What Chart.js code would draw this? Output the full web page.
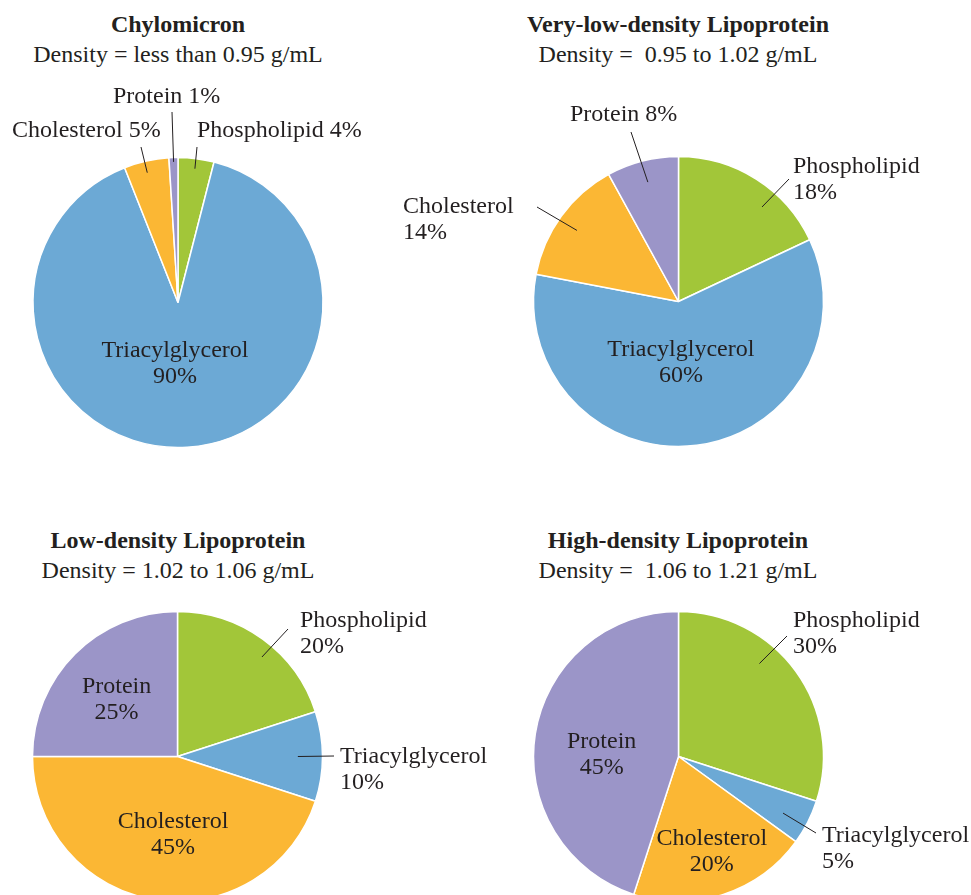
<!DOCTYPE html>
<html lang="en">
<head>
  <meta charset="UTF-8" />
  <title>Lipoprotein composition</title>
  <style>
    body {
      margin: 0;
      background: #fff;
      font-family: 'Liberation Serif', 'Times New Roman', serif;
      color: #231f20;
    }
    .page {
      position: relative;
      width: 971px;
      height: 895px;
      overflow: hidden;
    }
    .page canvas {
      position: absolute;
      left: 0;
      top: 0;
    }
    .heading {
      position: absolute;
      width: 420px;
      margin-left: -210px;
      text-align: center;
      font-size: 24px;
      line-height: 30px;
      white-space: pre;
    }
    .heading b { display: block; }
  </style>
  <script src="https://cdn.jsdelivr.net/npm/chart.js"></script>
</head>
<body>
  <div class="page">
    <div class="heading" style="left:178px; top:9px"><b>Chylomicron</b>Density = less than 0.95 g/mL</div>
    <div class="heading" style="left:678px; top:9px"><b>Very-low-density Lipoprotein</b>Density =  0.95 to 1.02 g/mL</div>
    <div class="heading" style="left:178px; top:525px"><b>Low-density Lipoprotein</b>Density = 1.02 to 1.06 g/mL</div>
    <div class="heading" style="left:678px; top:525px"><b>High-density Lipoprotein</b>Density =  1.06 to 1.21 g/mL</div>
    <canvas id="c1" width="971" height="895"></canvas>
    <canvas id="c2" width="971" height="895"></canvas>
    <canvas id="c3" width="971" height="895"></canvas>
    <canvas id="c4" width="971" height="895"></canvas>
  </div>

  <script>
    // composition in percent, same order for every particle
    const components = ['Phospholipid', 'Triacylglycerol', 'Cholesterol', 'Protein'];
    const chylomicron = [4, 90, 5, 1];
    const vldl = [18, 60, 14, 8];
    const ldl = [20, 10, 45, 25];
    const hdl = [30, 5, 20, 45];

    const colors = ['#a2c639', '#6ca9d5', '#fbb734', '#9b95c8'];
    const ink = '#231f20';
    const W = 971, H = 895, R = 145;

    // draws the slice labels; leader lines end on the arc itself
    const sliceLabels = {
      id: 'sliceLabels',
      afterDatasetsDraw(chart, args, opts) {
        const ctx = chart.ctx;
        const arcs = chart.getDatasetMeta(0).data;
        const values = chart.data.datasets[0].data;
        ctx.save();
        ctx.font = '24px "Liberation Serif", "Times New Roman", serif';
        ctx.fillStyle = ink;
        ctx.strokeStyle = ink;
        ctx.lineWidth = 1;
        opts.items.forEach(item => {
          const p = arcs[item.i].getProps(['x', 'y', 'startAngle', 'endAngle', 'outerRadius'], true);
          const a = p.startAngle + (p.endAngle - p.startAngle) * item.at;
          const px = p.x + Math.cos(a) * p.outerRadius * item.rf;
          const py = p.y + Math.sin(a) * p.outerRadius * item.rf;
          const name = chart.data.labels[item.i];
          const pct = values[item.i] + '%';
          if (item.inside) {
            ctx.textAlign = 'center';
            ctx.fillText(name, px, py - 6);
            ctx.fillText(pct, px, py + 20);
            return;
          }
          ctx.beginPath();
          ctx.moveTo(item.line[0], item.line[1]);
          ctx.lineTo(px, py);
          ctx.stroke();
          ctx.textAlign = 'left';
          if (item.oneLine) {
            ctx.fillText(name + ' ' + pct, item.x, item.y);
          } else {
            ctx.fillText(name, item.x, item.y);
            ctx.fillText(pct, item.x, item.y + 26);
          }
        });
        ctx.restore();
      }
    };

    function makePie(id, values, cx, cy, items) {
      new Chart(document.getElementById(id), {
        type: 'pie',
        data: {
          labels: components,
          datasets: [{
            data: values,
            backgroundColor: colors,
            borderColor: '#fff',
            borderWidth: 1.5,
            hoverOffset: 0
          }]
        },
        options: {
          responsive: false,
          animation: false,
          radius: R,
          layout: {
            padding: {
              left: Math.max(0, 2 * cx - W),
              right: Math.max(0, W - 2 * cx),
              top: Math.max(0, 2 * cy - H),
              bottom: Math.max(0, H - 2 * cy)
            }
          },
          plugins: {
            legend: { display: false },
            tooltip: { enabled: false },
            sliceLabels: { items: items }
          }
        },
        plugins: [sliceLabels]
      });
    }

    makePie('c1', chylomicron, 178, 302.5, [
      { i: 0, x: 197, y: 137, oneLine: true, line: [197, 147], at: 0.5, rf: 0.93 },
      { i: 1, inside: true, at: 0.52, rf: 0.42 },
      { i: 2, x: 12, y: 137, oneLine: true, line: [141, 147], at: 0.46, rf: 0.92 },
      { i: 3, x: 113, y: 103, oneLine: true, line: [172, 112], at: 0.5, rf: 0.97 }
    ]);

    makePie('c2', vldl, 678.5, 301.5, [
      { i: 0, x: 793, y: 173, line: [789, 179], at: 0.64, rf: 0.87 },
      { i: 1, inside: true, at: 0.523, rf: 0.42 },
      { i: 2, x: 403, y: 213, line: [537, 207], at: 0.48, rf: 0.855 },
      { i: 3, x: 570, y: 121, oneLine: true, line: [631, 132], at: 0.5, rf: 0.85 }
    ]);

    makePie('c3', ldl, 177.5, 756.5, [
      { i: 0, x: 300, y: 627, line: [288, 629], at: 0.56, rf: 0.9 },
      { i: 1, x: 340, y: 763, line: [334, 756], at: 0.5, rf: 0.83 },
      { i: 2, inside: true, at: 0.465, rf: 0.535 },
      { i: 3, inside: true, at: 0.48, rf: 0.576 }
    ]);

    makePie('c4', hdl, 678.5, 756.5, [
      { i: 0, x: 793, y: 627, line: [787, 636], at: 0.38, rf: 0.85 },
      { i: 1, x: 822, y: 842, line: [816, 833], at: 0.58, rf: 0.82 },
      { i: 2, inside: true, at: 0.48, rf: 0.69 },
      { i: 3, inside: true, at: 0.454, rf: 0.53 }
    ]);
  </script>
</body>
</html>
